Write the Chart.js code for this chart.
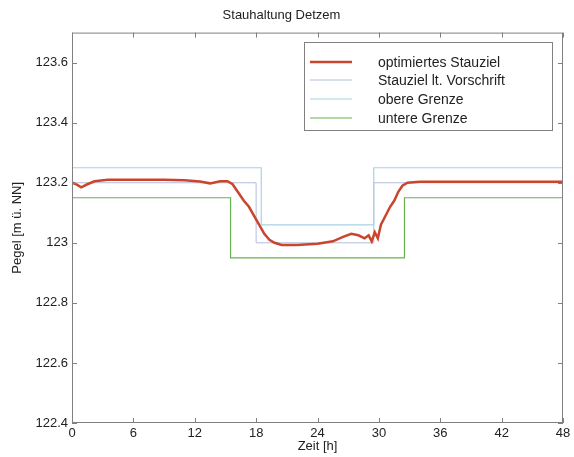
<!DOCTYPE html>
<html>
<head>
<meta charset="utf-8">
<script src="https://cdn.jsdelivr.net/npm/chart.js@4/dist/chart.umd.min.js"></script>
<style>
  html, body { margin: 0; padding: 0; background: #fff; }
  #wrap { width: 574px; height: 457px; }
</style>
</head>
<body>
<div id="wrap"><canvas id="pegelChart" width="574" height="457"></canvas></div>
<script>
// Zeitachse und Ticks
const xTicks = [0, 6, 12, 18, 24, 30, 36, 42, 48];
const yTicks = [122.4, 122.6, 122.8, 123.0, 123.2, 123.4, 123.6];

// optimiertes Stauziel
const optTime = [0, 0.4, 0.9, 1.5, 2.2, 3.5, 6, 9, 11, 12.5, 13.5, 14.5, 15.2, 15.7, 16.2, 16.8, 17.3, 17.8, 18.3, 18.8, 19.3, 19.8, 20.5, 22, 24, 25.5, 26.5, 27.3, 28.0, 28.6, 29.0, 29.3, 29.6, 29.9, 30.2, 30.5, 30.8, 31.1, 31.5, 31.9, 32.3, 32.8, 34, 40, 48];
const optLevel = [123.20, 123.195, 123.185, 123.195, 123.205, 123.21, 123.21, 123.21, 123.208, 123.204, 123.198, 123.205, 123.205, 123.195, 123.17, 123.14, 123.12, 123.09, 123.06, 123.03, 123.01, 123.0, 122.993, 122.993, 122.997, 123.005, 123.02, 123.03, 123.025, 123.015, 123.025, 123.005, 123.035, 123.015, 123.06, 123.08, 123.1, 123.12, 123.14, 123.17, 123.19, 123.2, 123.203, 123.203, 123.203];

// Stauziel lt. Vorschrift (Stufen)
const vorTime = [0, 18, 29.5, 48];
const vorLevel = [123.2, 123.0, 123.2, 123.2];

// obere Grenze
const obTime = [0, 18.5, 29.5, 48];
const obLevel = [123.25, 123.06, 123.25, 123.25];

// untere Grenze
const unTime = [0, 15.5, 32.5, 48];
const unLevel = [123.15, 122.95, 123.15, 123.15];

const toPts = (xs, ys) => xs.map((x, i) => ({ x: x, y: ys[i] }));
const FONT = "'Liberation Sans', Arial, Helvetica, sans-serif";

// MATLAB-artiger Rahmen mit Innenticks und Legende
const frameLegend = {
    id: 'frameLegend',
    afterDraw(chart) {
        const { ctx, chartArea: a, scales } = chart;
        ctx.save();
        ctx.strokeStyle = '#808080';
        ctx.lineWidth = 1;
        ctx.strokeRect(a.left + 0.5, a.top + 0.5, a.right - a.left - 1, a.bottom - a.top - 1);
        ctx.beginPath();
        xTicks.forEach(v => {
            const px = Math.round(scales.x.getPixelForValue(v)) + 0.5;
            ctx.moveTo(px, a.bottom); ctx.lineTo(px, a.bottom - 5);
            ctx.moveTo(px, a.top); ctx.lineTo(px, a.top + 5);
        });
        yTicks.forEach(v => {
            const py = Math.round(scales.y.getPixelForValue(v)) + 0.5;
            ctx.moveTo(a.left, py); ctx.lineTo(a.left + 5, py);
            ctx.moveTo(a.right, py); ctx.lineTo(a.right - 5, py);
        });
        ctx.stroke();

        // Legende
        const bx = 304, by = 42, bw = 248, bh = 88;
        ctx.fillStyle = '#fff';
        ctx.fillRect(bx, by, bw, bh);
        ctx.strokeStyle = '#808080';
        ctx.strokeRect(bx + 0.5, by + 0.5, bw, bh);
        const rows = [62, 80, 99, 118];
        chart.data.datasets.forEach((ds, i) => {
            ctx.strokeStyle = ds.borderColor;
            ctx.lineWidth = ds.borderWidth;
            ctx.beginPath();
            ctx.moveTo(310, rows[i]); ctx.lineTo(352, rows[i]);
            ctx.stroke();
            ctx.fillStyle = '#222';
            ctx.font = '14px ' + FONT;
            ctx.textBaseline = 'middle';
            ctx.fillText(ds.label, 378, rows[i] + 1);
        });
        ctx.restore();
    }
};

const ctx = document.getElementById('pegelChart').getContext('2d');
const pegelChart = new Chart(ctx, {
    type: 'line',
    data: {
        datasets: [
            { label: 'optimiertes Stauziel', data: toPts(optTime, optLevel), borderColor: '#c9462d', borderWidth: 2.5, order: 0 },
            { label: 'Stauziel lt. Vorschrift', data: toPts(vorTime, vorLevel), borderColor: '#b4bddc', borderWidth: 1, stepped: true, order: 3 },
            { label: 'obere Grenze', data: toPts(obTime, obLevel), borderColor: '#a6d3e3', borderWidth: 1.2, stepped: true, order: 2 },
            { label: 'untere Grenze', data: toPts(unTime, unLevel), borderColor: '#66b450', borderWidth: 1.2, stepped: true, order: 1 }
        ]
    },
    options: {
        responsive: false,
        animation: false,
        events: [],
        layout: { padding: { top: 0, right: 11, left: 0, bottom: 0 } },
        elements: { point: { radius: 0 }, line: { tension: 0 } },
        plugins: {
            legend: { display: false },
            tooltip: { enabled: false },
            title: {
                display: true,
                text: 'Stauhaltung Detzem',
                color: '#222',
                font: { family: FONT, size: 13, weight: 'normal' },
                padding: { top: 8, bottom: 9 }
            }
        },
        scales: {
            x: {
                type: 'linear',
                min: 0, max: 48,
                afterFit: s => { s.height = 34; },
                afterBuildTicks: s => { s.ticks = xTicks.map(v => ({ value: v })); },
                grid: { display: false, drawTicks: false, tickLength: 0 },
                border: { display: false },
                ticks: { color: '#222', padding: 3, maxRotation: 0, font: { family: FONT, size: 13 } },
                title: { display: true, text: 'Zeit [h]', color: '#222', padding: { top: 0, bottom: 3 }, font: { family: FONT, size: 13 } }
            },
            y: {
                type: 'linear',
                min: 122.4, max: 123.7,
                afterFit: s => { s.width = 72; },
                afterBuildTicks: s => { s.ticks = yTicks.map(v => ({ value: v })); },
                grid: { display: false, drawTicks: false, tickLength: 0 },
                border: { display: false },
                ticks: { color: '#222', padding: 4, font: { family: FONT, size: 13 }, callback: v => String(+v.toFixed(1)) },
                title: { display: true, text: 'Pegel [m ü. NN]', color: '#222', padding: { top: 10, bottom: 0 }, font: { family: FONT, size: 13 } }
            }
        }
    },
    plugins: [frameLegend]
});
</script>
</body>
</html>
